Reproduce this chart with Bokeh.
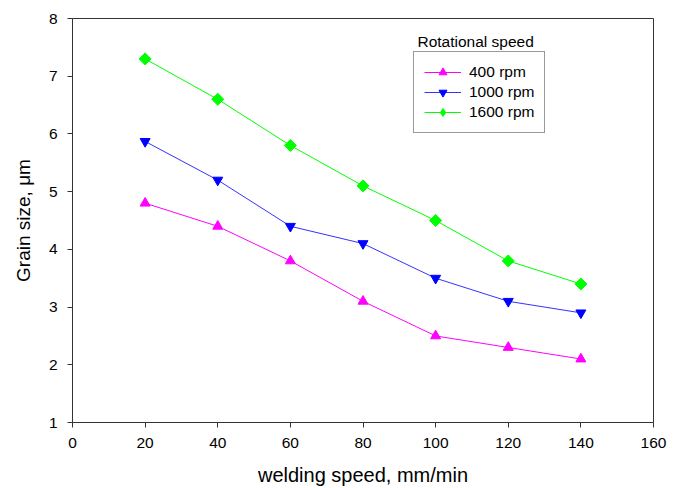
import math
from bokeh.plotting import figure
from bokeh.models import Range1d, Legend, LegendItem, Label, FixedTicker
from bokeh.embed import file_html
from bokeh.resources import INLINE

# welding speed (mm/min) and grain size (µm) per rotational speed
speed = [20, 40, 60, 80, 100, 120, 140]
grain_400 = [4.8, 4.4, 3.8, 3.1, 2.5, 2.3, 2.1]
grain_1000 = [5.87, 5.2, 4.4, 4.1, 3.5, 3.1, 2.9]
grain_1600 = [7.3, 6.6, 5.8, 5.1, 4.5, 3.8, 3.4]
x_ticks = [0, 20, 40, 60, 80, 100, 120, 140, 160]
y_ticks = [1, 2, 3, 4, 5, 6, 7, 8]

FONT = "Liberation Sans"

p = figure(width=678, height=488, output_backend="svg", toolbar_location=None,
           x_range=Range1d(0, 160), y_range=Range1d(1, 8),
           min_border_left=72, min_border_right=25,
           min_border_top=18, min_border_bottom=66)

p.xgrid.visible = False
p.ygrid.visible = False
p.outline_line_color = "#333333"
p.outline_line_width = 1

for ax in (p.xaxis[0], p.yaxis[0]):
    ax.major_label_text_font = FONT
    ax.major_label_text_font_size = "15.5px"
    ax.major_label_text_color = "black"
    ax.axis_label_text_font = FONT
    ax.axis_label_text_font_style = "normal"
    ax.axis_label_text_color = "black"
    ax.axis_line_color = "#333333"
    ax.major_tick_line_color = "#333333"
    ax.major_tick_out = 5
    ax.major_tick_in = 0
    ax.minor_tick_line_color = None

p.xaxis.ticker = FixedTicker(ticks=x_ticks)
p.yaxis.ticker = FixedTicker(ticks=y_ticks)
p.xaxis.axis_label = "welding speed, mm/min"
p.yaxis.axis_label = "Grain size, \u03bcm"
p.xaxis.axis_label_text_font_size = "20px"
p.yaxis.axis_label_text_font_size = "19px"
p.xaxis.major_label_standoff = 10
p.yaxis.major_label_standoff = 10
p.xaxis.axis_label_standoff = 13
p.yaxis.axis_label_standoff = 12

l1 = p.line(speed, grain_400, line_color="#FF00FF", line_width=1)
m1 = p.scatter(speed, grain_400, marker="triangle", size=10,
               fill_color="#FF00FF", line_color="#FF00FF")
l2 = p.line(speed, grain_1000, line_color="#3333FF", line_width=1)
m2 = p.scatter(speed, grain_1000, marker="inverted_triangle", size=10,
               fill_color="#0000FF", line_color="#0000FF")
l3 = p.line(speed, grain_1600, line_color="#00FF00", line_width=1)
# square diamonds: a square turned by 45 degrees
p.scatter(speed, grain_1600, marker="square", size=8.5, angle=math.pi / 4,
          fill_color="#00FF00", line_color="#00FF00")
# legend swatch for the 1600 rpm series (no points of its own)
m3 = p.scatter([float("nan")], [float("nan")], marker="diamond", size=12,
               fill_color="#00FF00", line_color="#00FF00")

legend = Legend(items=[
    LegendItem(label="400 rpm", renderers=[l1, m1]),
    LegendItem(label="1000 rpm", renderers=[l2, m2]),
    LegendItem(label="1600 rpm", renderers=[l3, m3]),
], location=(341, 289))
legend.label_text_font = FONT
legend.label_text_font_size = "15.5px"
legend.label_text_color = "black"
legend.glyph_width = 37
legend.glyph_height = 20
legend.label_height = 20
legend.label_standoff = 8
legend.spacing = 0
legend.padding = 10
legend.margin = 0
legend.border_line_color = "#333333"
legend.border_line_width = 1
legend.background_fill_alpha = 0
p.add_layout(legend, "center")

p.add_layout(Label(x=345, y=373, x_units="screen", y_units="screen",
                   text="Rotational speed", text_font=FONT,
                   text_font_size="15.5px", text_color="black"))

open("out.html", "w").write(file_html(p, INLINE))
